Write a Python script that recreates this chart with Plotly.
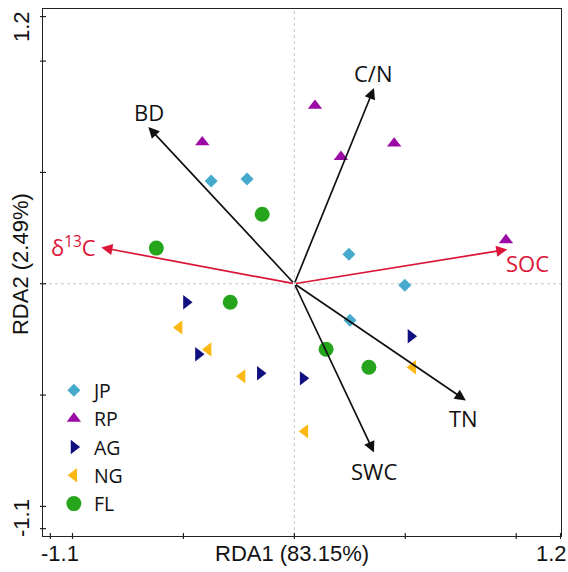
import plotly.graph_objects as go

# ---- data ----
groups = ["JP", "RP", "AG", "NG", "FL"]
JP_x = [-0.375, -0.213, 0.246, 0.498, 0.251]
JP_y = [0.461, 0.470, 0.133, -0.007, -0.164]
RP_x = [-0.415, 0.093, 0.210, 0.450, 0.954]
RP_y = [0.636, 0.800, 0.570, 0.630, 0.196]
AG_x = [-0.487, -0.433, -0.154, 0.039, 0.525]
AG_y = [-0.083, -0.317, -0.402, -0.425, -0.236]
NG_x = [-0.519, -0.388, -0.235, 0.048, 0.534]
NG_y = [-0.196, -0.295, -0.416, -0.663, -0.375]
FL_x = [-0.622, -0.145, -0.289, 0.143, 0.336]
FL_y = [0.160, 0.312, -0.083, -0.294, -0.375]

env_names = ["BD", "C/N", "δ<sup>13</sup>C", "SOC", "TN", "SWC"]
env_x = [-0.658, 0.359, -0.870, 0.960, 0.773, 0.359]
env_y = [0.704, 0.879, 0.163, 0.154, -0.524, -0.758]
env_lab_x = [-0.654, 0.359, -0.996, 1.051, 0.764, 0.359]
env_lab_y = [0.771, 0.947, 0.166, 0.092, -0.605, -0.839]
env_red = [False, False, True, True, False, False]

x_range = [-1.133, 1.202]
y_range = [-1.133, 1.234]
tick_vals = [-1.1, -1.0, -0.5, 0.0, 0.5, 1.0, 1.2]
y_tick_vals = [-1.1, -1.0, -0.5, 0.0, 0.5, 1.0, 1.2]
x_title = "RDA1 (83.15%)"
y_title = "RDA2 (2.49%)"

styles = {
    "JP": dict(symbol="diamond", color="#45aacb", size=10),
    "RP": dict(symbol="triangle-up", color="#9c0aa6", size=12.5),
    "AG": dict(symbol="triangle-right", color="#101080", size=12.5),
    "NG": dict(symbol="triangle-left", color="#fbb814", size=12.5),
    "FL": dict(symbol="circle", color="#24a51c", size=15),
}
data = {"JP": (JP_x, JP_y), "RP": (RP_x, RP_y), "AG": (AG_x, AG_y),
        "NG": (NG_x, NG_y), "FL": (FL_x, FL_y)}

RED = "#dc1437"
BLACK = "#111111"
AX_FONT = "Liberation Sans, Arial, sans-serif"
LAB_FONT = "Open Sans, Noto Sans, sans-serif"

W, H = 568, 572
ML, MR, MT, MB = 43, 6.5, 9, 36
PW, PH = W - ML - MR, H - MT - MB


def px2paper(px, py):
    return (px - ML) / PW, (H - MB - py) / PH


fig = go.Figure()

for i, g in enumerate(groups):
    xs, ys = data[g]
    st = styles[g]
    fig.add_trace(go.Scatter(
        x=xs, y=ys, mode="markers", name=g,
        marker=dict(symbol=st["symbol"], color=st["color"], size=st["size"],
                    line=dict(width=0)),
    ))

annotations = []
# arrows
for name, x, y, lx, ly, red in zip(env_names, env_x, env_y, env_lab_x, env_lab_y, env_red):
    col = RED if red else BLACK
    annotations.append(dict(
        x=x, y=y, ax=0, ay=0, xref="x", yref="y", axref="x", ayref="y",
        text="", showarrow=True, arrowhead=2, arrowsize=1.3, arrowwidth=1.7,
        arrowcolor=col, standoff=0,
    ))
    annotations.append(dict(
        x=lx, y=ly, xref="x", yref="y", text=name, showarrow=False,
        font=dict(family=LAB_FONT, size=22, color=col),
        xanchor="center", yanchor="middle",
    ))

# tick labels (only at the ends) and axis titles
for txt, (px, py), rot in [
    ("-1.1", (60, 553), 0), ("1.2", (552, 553), 0), (x_title, (292, 553), 0),
    ("1.2", (21, 27), -90), ("-1.1", (21, 518), -90), (y_title, (20, 264), -90),
]:
    xp, yp = px2paper(px, py)
    annotations.append(dict(
        x=xp, y=yp, xref="paper", yref="paper", text=txt, showarrow=False,
        textangle=rot, font=dict(family=AX_FONT, size=22, color="#111111"),
        xanchor="center", yanchor="middle",
    ))

shapes = []
# dotted zero lines
shapes.append(dict(type="line", xref="x", yref="paper", x0=0, x1=0, y0=0, y1=1,
                   line=dict(color="#c8c8c8", width=1, dash="dot"), layer="below"))
shapes.append(dict(type="line", xref="paper", yref="y", x0=0, x1=1, y0=0, y1=0,
                   line=dict(color="#c8c8c8", width=1, dash="dot"), layer="below"))
# crossing tick marks
tl = 3.0
for v in tick_vals:
    shapes.append(dict(type="line", xref="x", yref="paper", x0=v, x1=v,
                       y0=-tl / PH, y1=tl / PH, line=dict(color="#222222", width=1.2)))
for v in y_tick_vals:
    shapes.append(dict(type="line", xref="paper", yref="y", x0=-tl / PW, x1=tl / PW,
                       y0=v, y1=v, line=dict(color="#222222", width=1.2)))

fig.update_layout(
    width=W, height=H, autosize=False,
    margin=dict(l=ML, r=MR, t=MT, b=MB, pad=0),
    paper_bgcolor="white", plot_bgcolor="white",
    xaxis=dict(range=x_range, showgrid=False, zeroline=False, showticklabels=False,
               ticks="", showline=True, mirror=True, linecolor="#222222", linewidth=1.3),
    yaxis=dict(range=y_range, showgrid=False, zeroline=False, showticklabels=False,
               ticks="", showline=True, mirror=True, linecolor="#222222", linewidth=1.3),
    showlegend=True,
    legend=dict(x=0.021, y=0.313, xanchor="left", yanchor="top",
                bgcolor="rgba(0,0,0,0)", borderwidth=0, tracegroupgap=0,
                font=dict(family=LAB_FONT, size=19.5, color="#111111")),
    annotations=annotations, shapes=shapes,
)

fig.write_html("out.html")
